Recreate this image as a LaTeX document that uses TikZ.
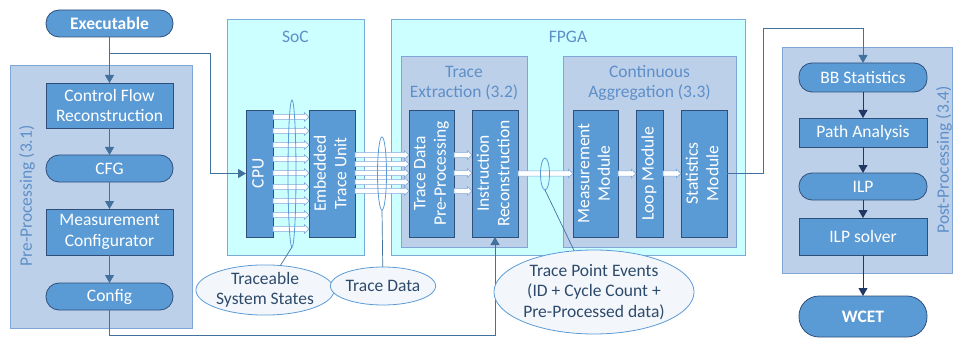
\documentclass[tikz,border=0pt]{standalone}
\usepackage{fontspec}
\setmainfont{Carlito}
\usetikzlibrary{arrows.meta,shapes.geometric,calc}
\definecolor{boxblue}{HTML}{5B9BD5}
\definecolor{boxedge}{HTML}{2F4F7A}
\definecolor{grpfill}{HTML}{BDD0EA}
\definecolor{grpedge}{HTML}{7FA6D6}
\definecolor{cyanfill}{HTML}{CCFFFF}
\definecolor{cyanedge}{HTML}{7AAAD8}
\definecolor{lbltext}{HTML}{5E8FC8}
\definecolor{conn}{HTML}{41719C}
\definecolor{darkconn}{HTML}{1F3864}
\definecolor{elltext}{HTML}{2E4A6B}
\definecolor{busedge}{HTML}{7FA8DA}
\definecolor{ellfill}{HTML}{F3F7FC}
\tikzset{
  every node/.style={font=\fontsize{17.5}{20.5}\selectfont, inner sep=0pt, outer sep=0pt},
  grp/.style={draw=grpedge, fill=grpfill, line width=0.8pt},
  cyangrp/.style={draw=cyanedge, fill=cyanfill, line width=0.8pt},
  grplabel/.style={text=lbltext, align=center},
  proc/.style={draw=boxedge, fill=boxblue, text=white, line width=0.8pt, align=center, minimum width=#1},
  proc/.default=127pt,
  stadium/.style={proc, rounded corners=13pt},
  vproc/.style={draw=boxedge, fill=boxblue, text=white, line width=0.8pt, minimum height=127pt, minimum width=#1},
  connarrow/.style={draw=conn, line width=0.9pt, -{Triangle[length=8pt,width=9pt]}},
  darkarrow/.style={draw=darkconn, line width=0.9pt, -{Triangle[length=8pt,width=9pt]}},
  busshape/.style={draw=busedge, fill=white, line width=0.6pt, line join=miter},
  bundle/.style={draw=boxblue, line width=0.8pt, ellipse},
  callout/.style={draw=boxblue, fill=ellfill, line width=0.8pt, ellipse, text=elltext, align=center},
  leader/.style={draw=conn, line width=0.7pt},
}
\newcommand{\vtext}[1]{\rotatebox{90}{\begin{tabular}{@{}c@{}}#1\end{tabular}}}
% block arrow from (#1) to (#2), both at the same height
\newcommand{\busarrow}[2]{%
  \path[busshape] let \p1=(#1), \p2=(#2) in
    (\x1,\y1+2.6pt) -- (\x2-4.5pt,\y1+2.6pt) -- (\x2-4.5pt,\y1+4.2pt) -- (\x2,\y1)
    -- (\x2-4.5pt,\y1-4.2pt) -- (\x2-4.5pt,\y1-2.6pt) -- (\x1,\y1-2.6pt) -- cycle;}
\begin{document}
\begin{tikzpicture}[x=1pt,y=-1pt]
\useasboundingbox (0,0) rectangle (953,342);
% groups
\draw[grp] (10,65) rectangle (192,328);
\node[grplabel, rotate=90] (prelbl) at (27,196) {Pre-Processing (3.1)};
\draw[cyangrp] (227,19) rectangle (364,255);
\node[grplabel] (soclbl) at (295.5,37) {SoC};
\draw[cyangrp] (391,19) rectangle (745,255);
\node[grplabel] (fpgalbl) at (568,37) {FPGA};
\draw[grp] (401,56) rectangle (527,247);
\node[grplabel] (telbl) at (464,83) {Trace\\Extraction (3.2)};
\draw[grp] (563,56) rectangle (736,247);
\node[grplabel] (calbl) at (649.5,83) {Continuous\\Aggregation (3.3)};
\draw[grp] (782,47) rectangle (952,273);
\node[grplabel, rotate=90] (postlbl) at (944,160) {Post-Processing (3.4)};

% pre-processing
\node[stadium, minimum height=27pt, font=\fontsize{17.5}{20.5}\selectfont\bfseries] (exe) at (109.5,23.5) {Executable};
\node[proc, minimum height=45pt] (cfr) at (109.5,105.5) {Control Flow\\Reconstruction};
\node[stadium, minimum height=27pt] (cfg) at (109.5,168.5) {CFG};
\node[proc, minimum height=46pt] (mc) at (109.5,232) {Measurement\\Configurator};
\node[stadium, minimum height=27pt] (conf) at (109.5,296.5) {Config};

% SoC
\node[vproc=27pt] (cpu) at (259.5,173.5) {\vtext{CPU}};
\node[vproc=46pt] (etu) at (332,173.5) {\vtext{Embedded\\Trace Unit}};

% FPGA
\node[vproc=45pt] (tdp) at (431.5,173.5) {\vtext{Trace Data\\Pre-Processing}};
\node[vproc=46pt] (ir) at (495,173.5) {\vtext{Instruction\\Reconstruction}};
\node[vproc=45pt] (mm) at (595.5,173.5) {\vtext{Measurement\\Module}};
\node[vproc=27pt] (lm) at (649.5,173.5) {\vtext{Loop Module}};
\node[vproc=46pt] (sm) at (704,173.5) {\vtext{Statistics\\Module}};

% post-processing
\node[stadium, proc=128pt, minimum height=29pt] (bbs) at (863,77.5) {BB Statistics};
\node[proc=128pt, minimum height=29pt] (pa) at (863,132.5) {Path Analysis};
\node[stadium, proc=128pt, minimum height=27pt] (ilp) at (863,186.5) {ILP};
\node[proc=128pt, minimum height=37pt] (ilps) at (863,236.5) {ILP solver};
\node[proc=128pt, minimum height=41pt, rounded corners=20pt, font=\fontsize{17.5}{20.5}\selectfont\bfseries] (wcet) at (863,316.5) {WCET};

% connectors
\draw[connarrow] (exe) -- (cfr);
\draw[connarrow] (cfr) -- (cfg);
\draw[connarrow] (cfg) -- (mc);
\draw[connarrow] (mc) -- (conf);
\coordinate (j1) at (109.5,53);
\coordinate (j2) at (210,53);
\draw[connarrow] (j1) -- (j2) |- (cpu.west);
\coordinate (c1) at (109.5,335);
\draw[connarrow] (conf.south) -- (c1) -| (ir.south);
\coordinate (s1) at (763,28);
\draw[connarrow] (sm.east) -| (s1) -| (bbs.north);
\draw[darkarrow] (bbs) -- (pa);
\draw[darkarrow] (pa) -- (ilp);
\draw[darkarrow] (ilp) -- (ilps);
\draw[darkarrow] (ilps) -- (wcet);

% buses
\foreach \yy in {117,131,145,159,173,187,201,215,229}
  \busarrow{cpu.east |- 0,\yy}{etu.west |- 0,\yy};
\foreach \yy in {155,164,173,182,191}
  \busarrow{etu.east |- 0,\yy}{tdp.west |- 0,\yy};
\foreach \yy in {155,173,191}
  \busarrow{tdp.east |- 0,\yy}{ir.west |- 0,\yy};
\busarrow{ir.east}{mm.west}
\busarrow{mm.east}{lm.west}
\busarrow{lm.east}{sm.west}

% bundles and callouts
\node[bundle, minimum width=8pt, minimum height=147pt] (b1) at (292,173.5) {};
\node[bundle, minimum width=9pt, minimum height=73pt] (b2) at (382,173.5) {};
\node[bundle, minimum width=9pt, minimum height=32pt] (b3) at (545,174) {};
\node[callout, minimum width=122pt, minimum height=46pt] (l1) at (265,290) {Traceable\\System States};
\node[callout, minimum width=100pt, minimum height=38pt] (l2) at (383,286) {Trace Data};
\node[callout, minimum width=181pt, minimum height=84pt] (l3) at (594,292) {Trace Point Events\\(ID + Cycle Count +\\Pre-Processed data)};
\draw[leader] (b1.south) -- (l1);
\draw[leader] (b2.south) -- (l2);
\draw[leader] (b3.south) -- (l3);
\end{tikzpicture}
\end{document}
